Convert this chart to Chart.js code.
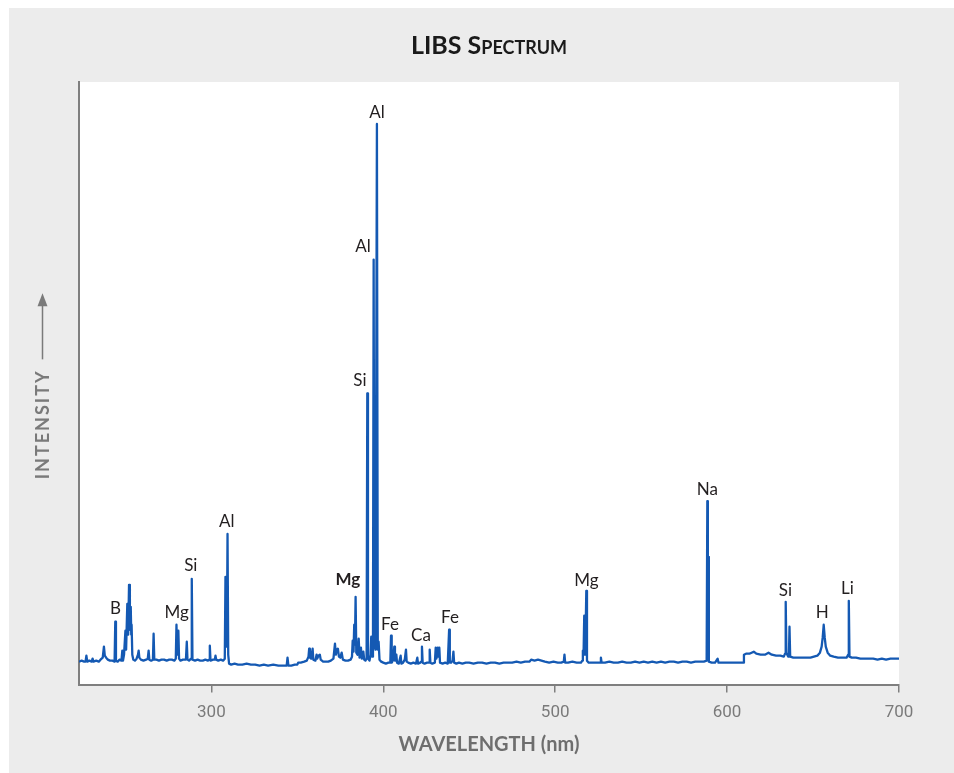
<!DOCTYPE html>
<html>
<head>
<meta charset="utf-8">
<script src="https://cdn.jsdelivr.net/npm/chart.js@4"></script>
<style>
  html, body { margin: 0; padding: 0; background: #fff; }
  #wrap { position: absolute; left: 9px; top: 8px; width: 945px; height: 765px; background: #ececec; }
</style>
</head>
<body>
<div id="wrap"><canvas id="libsChart"></canvas></div>
<script>
// spectrum (wavelength in nm, intensity in arbitrary units)
const wavelengthNm = [
  223.0, 224.5, 226.0, 226.8, 227.3, 227.8, 229.0, 230.4, 230.9, 231.4,
  233.0, 234.5, 235.5, 236.8, 237.5, 238.0, 238.8, 239.8, 241.0, 242.5,
  243.7, 244.1, 244.5, 245.5, 246.5, 247.7, 248.2, 248.6, 249.2, 249.6,
  250.0, 250.4, 251.1, 251.6, 252.1, 252.6, 253.1, 253.4, 253.6, 254.0,
  254.6, 255.5, 256.5, 257.3, 257.7, 258.1, 259.0, 260.5, 262.0, 263.0,
  263.5, 263.9, 265.0, 266.0, 266.4, 266.8, 268.0, 269.5, 271.0, 272.5,
  274.0, 275.5, 277.0, 278.5, 279.3, 279.7, 280.1, 280.8, 281.2, 282.0,
  283.5, 285.2, 285.7, 286.1, 287.0, 288.2, 288.6, 289.0, 290.5, 292.0,
  293.5, 295.0, 296.5, 298.0, 298.7, 299.1, 299.5, 301.0, 302.0, 302.4,
  302.8, 304.0, 305.5, 306.8, 307.8, 308.2, 308.6, 309.0, 309.4, 309.8,
  310.3, 311.5, 313.5, 315.5, 318.0, 320.5, 323.0, 325.5, 328.0, 330.5,
  333.0, 336.0, 339.0, 341.5, 343.8, 344.3, 344.8, 346.5, 348.5, 350.0,
  350.5, 352.0, 354.0, 355.5, 356.5, 356.9, 357.3, 358.0, 358.9, 359.3,
  360.5, 361.2, 361.6, 362.3, 363.1, 363.6, 365.0, 366.5, 368.0, 369.5,
  371.0, 371.9, 372.4, 373.0, 373.6, 374.2, 375.0, 375.8, 376.5, 378.0,
  379.5, 381.0, 381.8, 382.2, 382.7, 383.1, 383.5, 383.9, 384.3, 385.0,
  385.7, 386.2, 387.0, 387.5, 388.4, 388.9, 389.6, 390.3, 390.7, 391.1,
  392.0, 392.6, 393.0, 393.5, 394.0, 394.4, 394.8, 395.5, 396.3, 396.8,
  397.3, 397.8, 398.8, 400.0, 401.5, 403.0, 404.1, 404.5, 404.9, 405.8,
  406.4, 406.8, 407.6, 408.0, 409.0, 410.1, 410.5, 411.5, 412.5, 413.2,
  413.6, 414.5, 416.0, 417.5, 419.0, 419.8, 420.2, 421.5, 422.1, 422.5,
  422.9, 424.0, 425.5, 426.6, 427.0, 427.4, 428.5, 430.0, 430.5, 430.9,
  431.7, 432.1, 432.6, 433.0, 434.5, 436.0, 437.5, 438.3, 438.7, 439.5,
  440.3, 440.8, 441.2, 442.5, 444.0, 446.0, 448.0, 450.0, 452.5, 455.0,
  457.5, 460.0, 462.5, 465.0, 467.5, 470.0, 472.5, 475.0, 477.5, 480.0,
  482.5, 485.0, 486.0, 488.0, 490.0, 492.0, 494.0, 496.5, 499.0, 501.5,
  503.5, 505.0, 505.4, 505.8, 507.5, 510.0, 512.5, 515.0, 515.8, 516.1,
  516.5, 516.9, 517.5, 518.1, 518.5, 519.5, 521.5, 524.0, 526.2, 526.6,
  527.0, 529.0, 531.5, 534.0, 536.5, 539.0, 541.5, 544.0, 546.5, 549.0,
  551.5, 554.0, 556.5, 559.0, 561.5, 564.0, 566.5, 569.0, 571.5, 574.0,
  576.5, 579.0, 581.5, 584.0, 586.5, 588.1, 588.5, 588.8, 589.0, 589.4,
  591.0, 593.0, 594.5, 595.0, 597.0, 599.5, 602.0, 604.5, 607.0, 609.5,
  609.8, 611.0, 613.0, 615.5, 617.0, 619.5, 622.0, 624.1, 626.0, 628.5,
  631.0, 633.0, 633.7, 634.1, 634.5, 635.5, 636.0, 636.3, 636.7, 638.5,
  641.0, 643.5, 646.0, 648.5, 650.5, 652.5, 654.0, 655.0, 655.6, 656.2,
  656.8, 657.4, 658.5, 660.0, 662.0, 664.5, 667.0, 669.5, 670.4, 670.8,
  671.2, 672.5, 675.0, 677.5, 680.0, 682.5, 685.0, 687.5, 690.0, 692.5,
  695.0, 697.5, 700.0
];
const intensity = [
  23, 24, 23, 23, 29, 23, 24, 23, 26, 23,
  24, 23, 25, 27, 38, 29, 27, 25, 24, 24,
  23, 63, 24, 23, 25, 24, 34, 24, 30, 30,
  54, 35, 81, 50, 100, 55, 78, 50, 60, 30,
  25, 24, 26, 30, 34, 27, 25, 24, 25, 26,
  34, 25, 24, 25, 51, 25, 25, 24, 25, 25,
  24, 25, 25, 24, 26, 60, 30, 54, 26, 24,
  25, 25, 43, 25, 24, 26, 106, 25, 24, 25,
  24, 24, 25, 24, 25, 39, 24, 25, 25, 29,
  25, 24, 25, 24, 26, 108, 40, 38, 151, 30,
  21, 20, 21, 20, 20, 21, 20, 20, 19, 20,
  19, 20, 19, 19, 19, 27, 19, 19, 20, 20,
  22, 22, 23, 24, 28, 36, 27, 26, 36, 25,
  24, 30, 26, 29, 30, 25, 23, 23, 23, 24,
  26, 41, 30, 35, 36, 28, 27, 32, 25, 24,
  24, 25, 28, 44, 33, 60, 40, 88, 32, 30,
  46, 27, 37, 26, 33, 25, 24, 26, 292, 26,
  24, 30, 48, 28, 35, 426, 40, 35, 562, 35,
  43, 25, 23, 22, 21, 22, 22, 49, 22, 25,
  38, 24, 30, 22, 21, 29, 21, 22, 25, 35,
  23, 22, 21, 22, 21, 27, 21, 22, 23, 38,
  22, 21, 22, 22, 35, 22, 21, 22, 37, 26,
  37, 28, 37, 22, 21, 22, 21, 55, 22, 22,
  24, 33, 22, 21, 22, 21, 22, 22, 21, 22,
  22, 21, 22, 22, 21, 22, 22, 22, 23, 22,
  23, 23, 25, 24, 25, 24, 23, 22, 23, 22,
  22, 23, 30, 22, 22, 23, 22, 22, 24, 34,
  30, 69, 30, 94, 24, 22, 22, 22, 22, 27,
  22, 22, 23, 22, 22, 23, 22, 22, 23, 22,
  23, 22, 23, 22, 23, 22, 23, 23, 22, 23,
  23, 22, 23, 23, 23, 24, 184, 60, 128, 23,
  22, 22, 26, 22, 22, 22, 22, 22, 22, 22,
  30, 31, 31, 33, 31, 30, 30, 32, 30, 29,
  29, 28, 31, 83, 32, 28, 31, 58, 28, 27,
  27, 27, 27, 27, 28, 29, 32, 38, 47, 60,
  47, 38, 32, 29, 28, 27, 27, 27, 30, 84,
  28, 27, 27, 26, 26, 26, 26, 25, 26, 25,
  26, 26, 26
];
const xTicks = [300, 400, 500, 600, 700];

// element labels above the lines
const peakNames = ['B', 'Mg', 'Si', 'Al', 'Mg', 'Si', 'Al', 'Al', 'Fe', 'Ca', 'Fe', 'Mg', 'Na', 'Si', 'H', 'Li'];
const peakLabelNm = [244.3, 279.8, 288.0, 309.0, 379.4, 386.4, 388.2, 396.3, 403.9, 421.9, 438.8, 518.1, 588.5, 633.9, 655.4, 670.0];
const peakLabelIntensity = [76, 72, 119, 163, 105, 305, 439, 573, 60, 49, 67, 104, 196, 94, 72, 96];

const plotBackground = {
  id: 'plotBackground',
  beforeDraw(chart) {
    const {ctx, chartArea: a} = chart;
    ctx.save();
    ctx.fillStyle = '#ffffff';
    ctx.fillRect(a.left, a.top, a.right - a.left, a.bottom - a.top);
    ctx.restore();
  }
};

const peakLabels = {
  id: 'peakLabels',
  afterDatasetsDraw(chart) {
    const {ctx, scales: {x, y}} = chart;
    ctx.save();
    ctx.textAlign = 'center';
    ctx.textBaseline = 'middle';
    ctx.fillStyle = '#231f20';
    peakNames.forEach((name, i) => {
      ctx.font = (i === 4 ? 'bold ' : '') + '17px Lato';
      ctx.fillText(name, x.getPixelForValue(peakLabelNm[i]), y.getPixelForValue(peakLabelIntensity[i]));
    });
    ctx.restore();
  }
};

// rotated "INTENSITY" with the arrow pointing up
const yAxisTitle = {
  id: 'yAxisTitle',
  afterDraw(chart) {
    const {ctx, chartArea: a} = chart;
    ctx.save();
    ctx.translate(a.left - 36.5, (a.top + a.bottom) / 2);
    ctx.rotate(-Math.PI / 2);
    ctx.font = 'bold 18px Lato';
    ctx.letterSpacing = '2px';
    const w = ctx.measureText('INTENSITY').width;
    const gap = 10, arrow = 66;
    const start = -(w + gap + arrow) / 2 - 3;
    ctx.fillStyle = '#7a7a7a';
    ctx.strokeStyle = '#7a7a7a';
    ctx.textBaseline = 'middle';
    ctx.textAlign = 'left';
    ctx.fillText('INTENSITY', start, 1);
    ctx.lineWidth = 1.5;
    ctx.beginPath();
    ctx.moveTo(start + w + gap, 0);
    ctx.lineTo(start + w + gap + arrow - 10, 0);
    ctx.stroke();
    ctx.beginPath();
    ctx.moveTo(start + w + gap + arrow, 0);
    ctx.lineTo(start + w + gap + arrow - 13, -5);
    ctx.lineTo(start + w + gap + arrow - 13, 5);
    ctx.closePath();
    ctx.fill();
    ctx.restore();
  }
};

new Chart(document.getElementById('libsChart'), {
  type: 'line',
  data: {
    datasets: [{
      data: wavelengthNm.map((w, i) => ({x: w, y: intensity[i]})),
      borderColor: '#1459b3',
      borderWidth: 2.3,
      borderJoinStyle: 'round',
      pointRadius: 0,
      tension: 0,
      fill: false
    }]
  },
  options: {
    responsive: true,
    maintainAspectRatio: false,
    animation: false,
    layout: { padding: { left: 70, right: 55, top: 0, bottom: 16 } },
    plugins: {
      legend: { display: false },
      tooltip: { enabled: false },
      title: {
        display: true,
        text: 'LIBS Spectrum',
        color: '#1a1a1a',
        font: { family: 'Lato', size: 25, weight: 'small-caps bold' },
        padding: { top: 23, bottom: 21 }
      }
    },
    scales: {
      x: {
        type: 'linear',
        min: 223,
        max: 700,
        afterBuildTicks: s => { s.ticks = xTicks.map(v => ({value: v})); },
        grid: { display: true, drawOnChartArea: false, drawTicks: true, tickLength: 8, color: '#7f7f7f', lineWidth: 1.5 },
        border: { display: true, color: '#7f7f7f', width: 2 },
        ticks: { color: '#7a7a7a', padding: 10, font: { family: 'Roboto', size: 17 } },
        title: {
          display: true,
          text: 'WAVELENGTH (nm)',
          color: '#6e6e6e',
          font: { family: 'Lato', size: 20, weight: 'bold' },
          padding: { top: 0, bottom: 0 }
        }
      },
      y: {
        min: 0,
        max: 604,
        grid: { display: false, drawTicks: false },
        border: { display: true, color: '#7f7f7f', width: 2 },
        ticks: { display: false }
      }
    }
  },
  plugins: [plotBackground, peakLabels, yAxisTitle]
});
</script>
</body>
</html>
